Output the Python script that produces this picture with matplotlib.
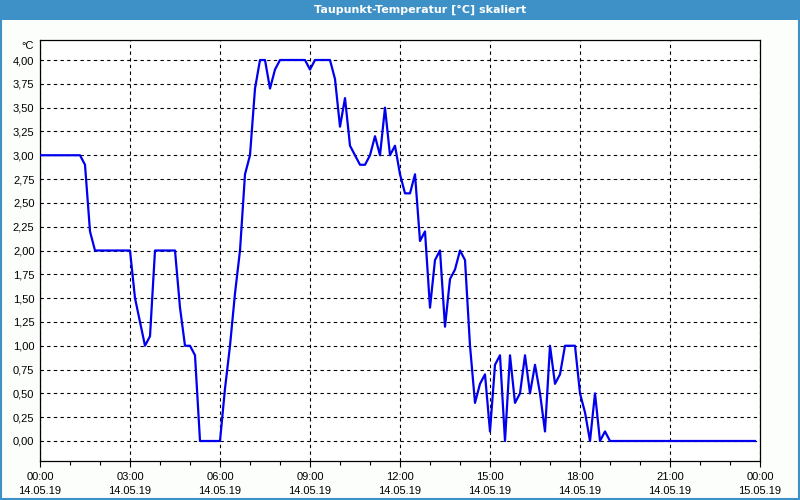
import numpy as np
import pandas as pd
from matplotlib import pyplot as plt
from matplotlib.patches import Rectangle
import matplotlib.dates as mdates

# dew point, one reading every 10 minutes
taupunkt = [
    3.0, 3.0, 3.0, 3.0, 3.0, 3.0, 3.0, 3.0, 3.0, 2.9,
    2.2, 2.0, 2.0, 2.0, 2.0, 2.0, 2.0, 2.0, 2.0, 1.5,
    1.25, 1.0, 1.1, 2.0, 2.0, 2.0, 2.0, 2.0, 1.4, 1.0,
    1.0, 0.9, 0.0, 0.0, 0.0, 0.0, 0.0, 0.55, 1.0, 1.55,
    2.0, 2.8, 3.0, 3.7, 4.0, 4.0, 3.7, 3.9, 4.0, 4.0,
    4.0, 4.0, 4.0, 4.0, 3.9, 4.0, 4.0, 4.0, 4.0, 3.8,
    3.3, 3.6, 3.1, 3.0, 2.9, 2.9, 3.0, 3.2, 3.0, 3.5,
    3.0, 3.1, 2.8, 2.6, 2.6, 2.8, 2.1, 2.2, 1.4, 1.9,
    2.0, 1.2, 1.7, 1.8, 2.0, 1.9, 1.0, 0.4, 0.6, 0.7,
    0.1, 0.8, 0.9, 0.0, 0.9, 0.4, 0.5, 0.9, 0.5, 0.8,
    0.5, 0.1, 1.0, 0.6, 0.7, 1.0, 1.0, 1.0, 0.5, 0.3,
    0.0, 0.5, 0.0, 0.1, 0.0, 0.0, 0.0, 0.0, 0.0, 0.0,
    0.0, 0.0, 0.0, 0.0, 0.0, 0.0, 0.0, 0.0, 0.0, 0.0,
    0.0, 0.0, 0.0, 0.0, 0.0, 0.0, 0.0, 0.0, 0.0, 0.0,
    0.0, 0.0, 0.0, 0.0,
]
zeit = pd.date_range("2019-05-14 00:00", periods=len(taupunkt), freq="10min")

y_ticks = [0.0, 0.25, 0.5, 0.75, 1.0, 1.25, 1.5, 1.75, 2.0, 2.25, 2.5, 2.75, 3.0, 3.25, 3.5, 3.75, 4.0]
titel = "Taupunkt-Temperatur [°C] skaliert"

fenster_blau = "#3d91c6"
plt.rcParams['font.family'] = ['Liberation Sans', 'DejaVu Sans']

fig = plt.figure(figsize=(8, 5), dpi=100)
fig.patch.set_facecolor("#fcfefc")

# window frame + title bar
fig.patches.append(Rectangle((0, 0.96), 1, 0.04, transform=fig.transFigure,
                             facecolor=fenster_blau, edgecolor="none", zorder=0))
fig.patches.append(Rectangle((0.0012, 0.002), 0.9976, 0.996, transform=fig.transFigure,
                             facecolor="none", edgecolor=fenster_blau, lw=1.5, zorder=0))
fig.text(0.525, 0.98, titel, color="white", ha="center", va="center",
         fontsize=8, fontweight="bold", family="DejaVu Sans")

ax = fig.add_axes([0.05, 0.078, 0.9, 0.842])
ax.set_facecolor("white")
ax.plot(zeit, taupunkt, color="#0000ee", lw=1.6, zorder=3)

ax.set_xlim(pd.Timestamp("2019-05-14 00:00"), pd.Timestamp("2019-05-15 00:00"))
ax.set_ylim(-0.21, 4.21)
ax.set_yticks(y_ticks)
ax.set_yticklabels([f"{v:.2f}".replace(".", ",") for v in y_ticks])

ax.xaxis.set_major_locator(mdates.HourLocator(byhour=range(0, 24, 3)))
ax.xaxis.set_minor_locator(mdates.HourLocator())
ax.xaxis.set_major_formatter(mdates.DateFormatter("%H:%M\n%d.%m.%y"))

ax.grid(True, which="major", color="black", linestyle=(0, (3, 3)), lw=0.8)
ax.tick_params(axis="y", length=0, pad=4, labelsize=8)
ax.tick_params(axis="x", which="major", length=4, width=0.8, pad=4, labelsize=8)
ax.tick_params(axis="x", which="minor", length=3, width=0.8)
for lbl in ax.get_xticklabels():
    lbl.set_linespacing(1.5)
for sp in ax.spines.values():
    sp.set_linewidth(0.9)

fig.text(0.042, 0.908, "°C", ha="right", va="center", fontsize=8)

fig.savefig("out.png", dpi=100, facecolor=fig.get_facecolor())
